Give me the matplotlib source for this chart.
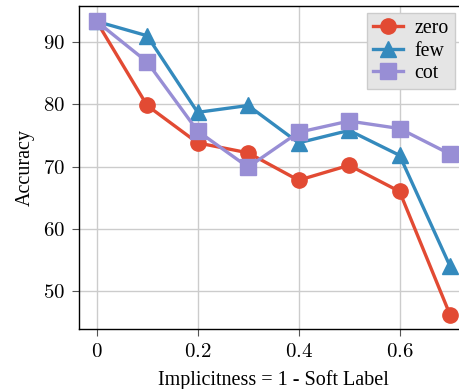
import matplotlib
matplotlib.use("Agg")
import matplotlib.pyplot as plt
from matplotlib.ticker import FuncFormatter

x = [0, 0.1, 0.2, 0.3, 0.4, 0.5, 0.6, 0.7]
zero = [93.3, 79.8, 73.8, 72.2, 67.8, 70.2, 66.0, 46.2]
few = [93.3, 91.0, 78.7, 79.8, 73.8, 75.8, 71.8, 54.0]
cot = [93.3, 86.8, 75.7, 69.9, 75.5, 77.3, 76.1, 72.0]
xticks = [0, 0.2, 0.4, 0.6]
yticks = [50, 60, 70, 80, 90]

plt.rcParams['font.family'] = ['Liberation Serif', 'DejaVu Serif']
plt.rcParams['mathtext.fontset'] = 'cm'

fig = plt.figure(figsize=(4.59, 3.89), dpi=100)
ax = fig.add_axes([0.172, 0.154, 0.847, 0.831])

ax.plot(x, zero, color='#E24A33', marker='o', lw=2.4, ms=11, label='zero', zorder=3, clip_on=False)
ax.plot(x, few, color='#348ABD', marker='^', lw=2.4, ms=11, label='few', zorder=3, clip_on=False)
ax.plot(x, cot, color='#988ED5', marker='s', lw=2.4, ms=11, label='cot', zorder=3, clip_on=False)

ax.set_xlim(-0.035, 0.735)
ax.set_ylim(43.9, 95.8)
ax.set_xticks(xticks)
ax.set_yticks(yticks)
ax.xaxis.set_major_formatter(FuncFormatter(lambda v, p: r'$%g$' % v))
ax.yaxis.set_major_formatter(FuncFormatter(lambda v, p: r'$%g$' % v))
ax.tick_params(labelsize=15, length=5, pad=5, color='#555555')
ax.grid(True, color='#cccccc', lw=1)
ax.set_axisbelow(True)
for s in ax.spines.values():
    s.set_color('black')
    s.set_linewidth(1)
ax.set_xlabel('Implicitness = 1 - Soft Label', fontsize=14.5, labelpad=6)
ax.set_ylabel('Accuracy', fontsize=14.5, labelpad=6)
leg = ax.legend(loc='upper left', bbox_to_anchor=(367 / 459, 1 - 13 / 389),
                bbox_transform=fig.transFigure, fontsize=14.3, facecolor='#e5e5e5',
                edgecolor='#cccccc', framealpha=1, fancybox=False, borderpad=0.3,
                borderaxespad=0, handlelength=1.5, handletextpad=0.6, labelspacing=0.18)
fig.savefig('out.png', dpi=100)
